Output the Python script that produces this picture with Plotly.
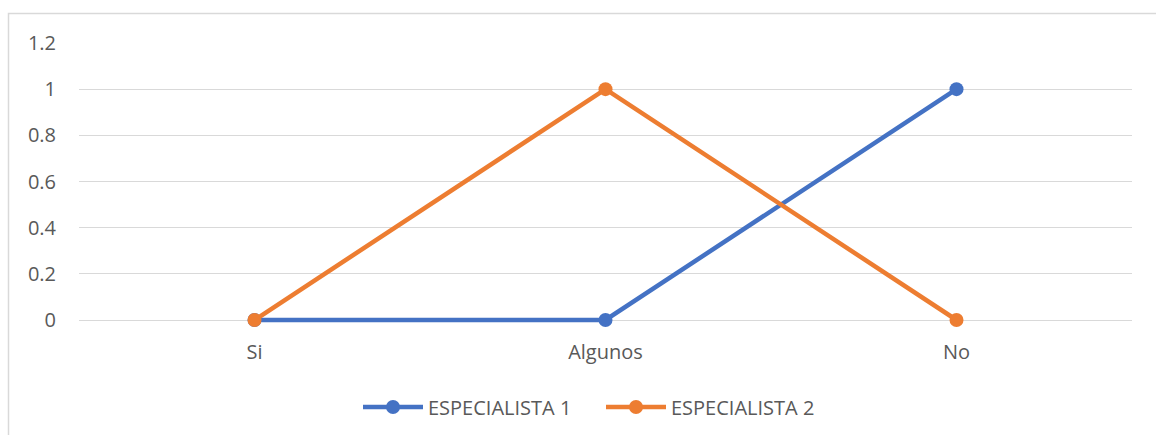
import plotly.graph_objects as go

categories = ["Si", "Algunos", "No"]
especialista_1 = [0, 0, 1]
especialista_2 = [0, 1, 0]
y_ticks = [0, 0.2, 0.4, 0.6, 0.8, 1, 1.2]
y_tick_labels = ["0", "0.2", "0.4", "0.6", "0.8", "1", "1.2"]

fig = go.Figure()
fig.add_trace(go.Scatter(x=categories, y=especialista_1, mode="lines+markers", name="ESPECIALISTA 1",
                         line=dict(color="#4472C4", width=4.5), marker=dict(size=14, color="#4472C4"),
                         cliponaxis=False))
fig.add_trace(go.Scatter(x=categories, y=especialista_2, mode="lines+markers", name="ESPECIALISTA 2",
                         line=dict(color="#ED7D31", width=4.5), marker=dict(size=14, color="#ED7D31"),
                         cliponaxis=False))

W, H = 1156, 435
L, R, T = 79, 24, 43
y0px, y12px, ybot = 320, 43, 323
B = H - ybot
pw, ph = W - L - R, ybot - T
scale = (y0px - y12px) / 1.2
ymin = -(ybot - y0px) / scale

def py(p):
    return (ybot - p) / ph

fig.update_layout(
    width=W, height=H,
    margin=dict(l=L, r=R, t=T, b=B, autoexpand=False),
    paper_bgcolor="white", plot_bgcolor="white",
    font=dict(family="Open Sans, Lato, sans-serif", size=20, color="#595959"),
    showlegend=True,
    legend=dict(orientation="h", xref="paper", x=(358 - L) / pw, xanchor="left",
                yref="paper", y=py(407), yanchor="middle",
                font=dict(size=20, color="#595959"), itemwidth=60, traceorder="normal",
                entrywidth=168, entrywidthmode="pixels"),
    xaxis=dict(type="category", range=[-0.5, 2.5], showgrid=False, zeroline=False,
               showline=False, ticks="", ticklabelstandoff=15, fixedrange=True),
    yaxis=dict(range=[ymin, 1.2], tickvals=y_ticks, ticktext=y_tick_labels, showgrid=True,
               gridcolor="#D9D9D9", gridwidth=1.3, zeroline=False, showline=False, ticks="",
               ticklabelstandoff=22),
    shapes=[dict(type="rect", xref="paper", yref="paper",
                 x0=(8.5 - L) / pw, x1=(W + 20 - L) / pw,
                 y0=py(13.5), y1=py(H + 20),
                 line=dict(color="#D9D9D9", width=1.5), fillcolor="rgba(0,0,0,0)", layer="below")],
)
fig.write_html("out.html")
